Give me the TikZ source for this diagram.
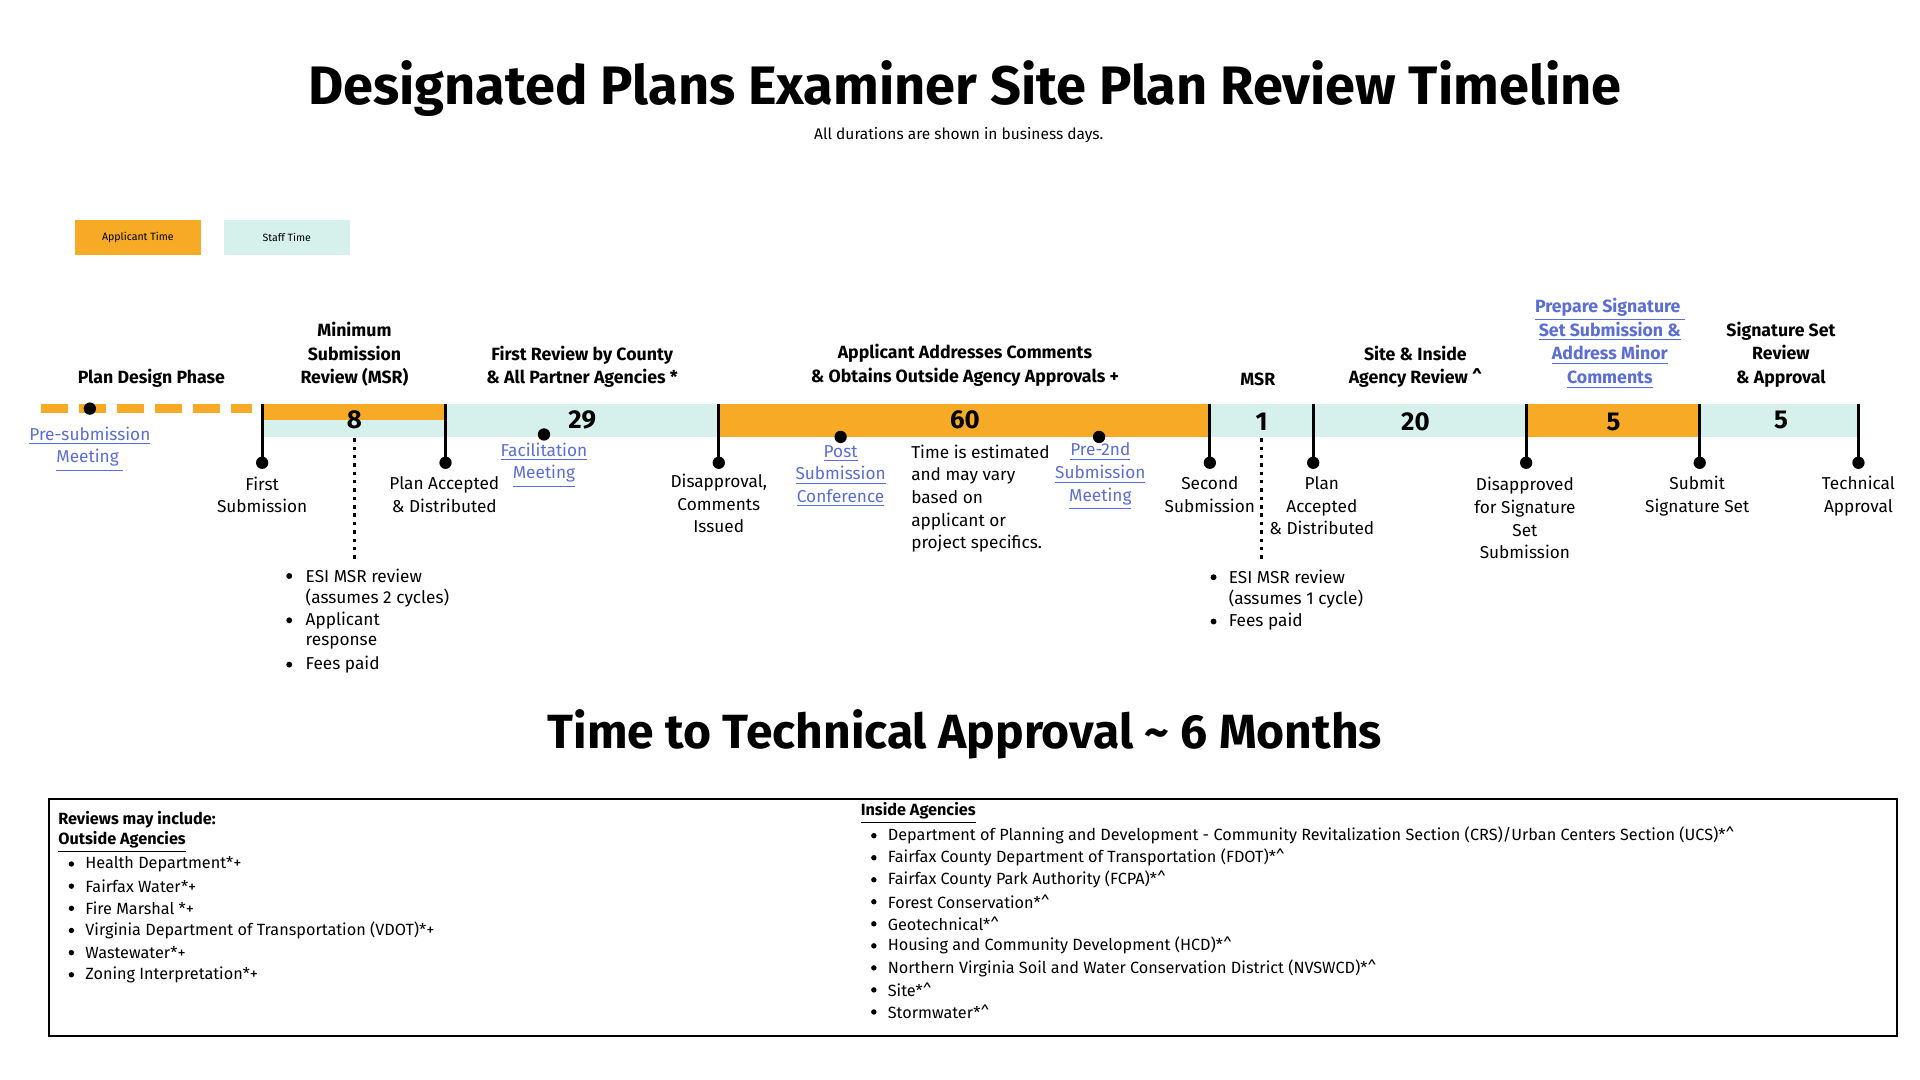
\documentclass[tikz,border=0pt]{standalone}
\usepackage{fontspec}
\setmainfont{Fira Sans}
\begin{document}
\begin{tikzpicture}[x=0.5pt,y=-0.5pt,
  lbl/.style={font=\fontsize{7}{9.2}\selectfont,align=center,inner sep=0},
  hd/.style={font=\fontsize{7.2}{9.6}\selectfont\bfseries,align=center,inner sep=0},
  lnk/.style={lbl,text=linkc},
  num/.style={font=\fontsize{10.5}{12}\selectfont\bfseries,inner sep=0},
  tick/.style={line width=1.2pt},
  dot/.style={circle,fill=black,inner sep=0,minimum size=5pt},
  sdot/.style={circle,fill=black,inner sep=0,minimum size=5pt},
  dots/.style={line width=1.4pt,dash pattern=on 1.4pt off 2pt},
  bl/.style={font=\fontsize{7}{9.1}\selectfont,inner sep=0,anchor=west}]
\definecolor{org}{HTML}{F6AA25}
\definecolor{tea}{HTML}{D6F0EC}
\definecolor{linkc}{HTML}{5B6ED3}
\useasboundingbox (0,0) rectangle (1560,877.5);
\fill[white] (0,0) rectangle (1560,877.5);
% title
\node[font=\fontsize{22}{26}\selectfont\bfseries,inner sep=0] (title) at (784,72) {Designated Plans Examiner Site Plan Review Timeline};
\node[font=\fontsize{6.3}{8}\selectfont,inner sep=0] (sub) at (779,110) {All durations are shown in business days.};
% legend
\fill[org] (61,179) rectangle (163,207);
\node[font=\fontsize{4.3}{5}\selectfont,inner sep=0] (lga) at (112,193) {Applicant Time};
\fill[tea] (182,179) rectangle (284,207);
\node[font=\fontsize{4.3}{5}\selectfont,inner sep=0] (lgs) at (233,193) {Staff Time};
% bar
\draw[org,line width=3.5pt,dash pattern=on 11pt off 4.5pt] (33,332) -- (205,332);
\fill[org] (213,328) rectangle (362,341);
\fill[tea] (213,341) rectangle (362,355);
\fill[tea] (362,328) rectangle (584,355);
\fill[org] (584,328) rectangle (983,355);
\fill[tea] (983,328) rectangle (1240,355);
\fill[org] (1240,328) rectangle (1381,355);
\fill[tea] (1381,328) rectangle (1510,355);
\node[num] (n8) at (288,341) {8};
\node[num] (n29) at (473,341) {29};
\node[num] (n60) at (784,341) {60};
\node[num] (n1) at (1025,343) {1};
\node[num] (n20) at (1150,343) {20};
\node[num] (n5a) at (1311,343) {5};
\node[num] (n5b) at (1447,341) {5};
% ticks
\foreach \n/\x in {a/213,b/362,c/584,d/983,e/1067,f/1240,g/1381,h/1510}{
  \coordinate (t\n) at (\x,328);
  \node[dot] (d\n) at (\x,376) {};
  \draw[tick] (t\n) -- (d\n.center);
}
% dotted
\coordinate (m1a) at (288,356); \coordinate (m1b) at (288,456);
\draw[dots] (m1a) -- (m1b);
\coordinate (m2a) at (1025,356); \coordinate (m2b) at (1025,456);
\draw[dots] (m2a) -- (m2b);
% small dots
\node[sdot] (pre) at (73,332) {};
\node[sdot] (fac) at (442,353) {};
\node[sdot] (post) at (683,355) {};
\node[sdot] (pre2) at (893,355) {};
% headers
\node[hd] (h1) at (123,307) {Plan Design Phase};
\node[hd] (h2) at (288,288) {Minimum\\Submission\\Review (MSR)};
\node[hd] (h3) at (473,298) {First Review by County\\\& All Partner Agencies *};
\node[hd] (h4) at (784,297) {Applicant Addresses Comments\\\& Obtains Outside Agency Approvals +};
\node[hd] (h5) at (1022,308) {MSR};
\node[hd] (h6) at (1150,298) {Site \& Inside\\Agency Review \^{}};
\node[hd,text=linkc] (h7) at (1308,279) {\underline{Prepare Signature }\\\underline{Set Submission \&}\\\underline{Address Minor}\\\underline{Comments}};
\node[hd] (h8) at (1447,288) {Signature Set\\Review\\\& Approval};
% labels below
\node[lnk] (l0) at (73,365) {\underline{Pre-submission}\\\underline{Meeting }};
\node[lbl] (l1) at (213,402) {First\\Submission};
\node[lbl] (l2) at (361,402) {Plan Accepted\\\& Distributed};
\node[lnk] (l3) at (442,378) {\underline{Facilitation}\\\underline{Meeting}};
\node[lbl] (l4) at (584,409) {Disapproval,\\Comments\\Issued};
\node[lnk] (l5) at (683,387) {\underline{Post}\\\underline{Submission}\\\underline{Conference}};
\node[lbl,align=left,anchor=north west] (l6) at (740,361) {Time is estimated\\and may vary\\based on\\applicant or\\project specifics.};
\node[lnk] (l7) at (894,387) {\underline{Pre-2nd}\\\underline{Submission}\\\underline{Meeting}};
\node[lbl] (l8) at (983,402) {Second\\Submission};
\node[lbl] (l9) at (1074,411) {Plan\\Accepted\\\& Distributed};
\node[lbl] (l10) at (1239,421) {Disapproved\\for Signature\\Set\\Submission};
\node[lbl] (l11) at (1379,403) {Submit\\Signature Set};
\node[lbl] (l12) at (1510,403) {Technical\\Approval};
% bullet lists
\foreach \t [count=\i] in {ESI MSR review,(assumes 2 cycles),Applicant,response,Fees paid}{
  \node[bl] (ba\i) at (248,468+18*\i-18) {\t};}
\foreach \y in {468,504,540}{\node[circle,fill=black,inner sep=0,minimum size=2.4pt] at (235,\y) {};}
\foreach \t [count=\i] in {ESI MSR review,(assumes 1 cycle),Fees paid}{
  \node[bl] (bb\i) at (998,469+18*\i-18) {\t};}
\foreach \y in {469,505}{\node[circle,fill=black,inner sep=0,minimum size=2.4pt] at (986,\y) {};}
% bottom title
\node[font=\fontsize{19.5}{24}\selectfont\bfseries,inner sep=0] (tt) at (784,597) {Time to Technical Approval \textasciitilde{} 6 Months};
% box
\draw[line width=0.8pt] (40,649) rectangle (1541,842);
\node[bl,font=\fontsize{6.6}{8}\selectfont\bfseries] (r1) at (47,666) {Reviews may include:};
\node[bl,font=\fontsize{6.6}{8}\selectfont\bfseries] (r2) at (47,684) {\underline{Outside Agencies}};
\foreach \t [count=\i] in {Health Department*+,Fairfax Water*+,Fire Marshal *+,Virginia Department of Transportation (VDOT)*+,Wastewater*+,Zoning Interpretation*+}{
  \node[bl,font=\fontsize{6.6}{8}\selectfont] (o\i) at (69,702+18*\i-18) {\t};
  \node[circle,fill=black,inner sep=0,minimum size=2.2pt] at (58,702+18*\i-18) {};}
\node[bl,font=\fontsize{6.6}{8}\selectfont\bfseries] (r3) at (699,661) {\underline{Inside Agencies}};
\foreach \t [count=\i] in {Department of Planning and Development - Community Revitalization Section (CRS)/Urban Centers Section (UCS)*\^{},Fairfax County Department of Transportation (FDOT)*\^{},Fairfax County Park Authority (FCPA)*\^{},Forest Conservation*\^{},Geotechnical*\^{},Housing and Community Development (HCD)*\^{},Northern Virginia Soil and Water Conservation District (NVSWCD)*\^{},Site*\^{},Stormwater*\^{}}{
  \node[bl,font=\fontsize{6.6}{8}\selectfont] (i\i) at (721,679+17.9*\i-17.9) {\t};
  \node[circle,fill=black,inner sep=0,minimum size=2.2pt] at (710,679+17.9*\i-17.9) {};}
\end{tikzpicture}
\end{document}
